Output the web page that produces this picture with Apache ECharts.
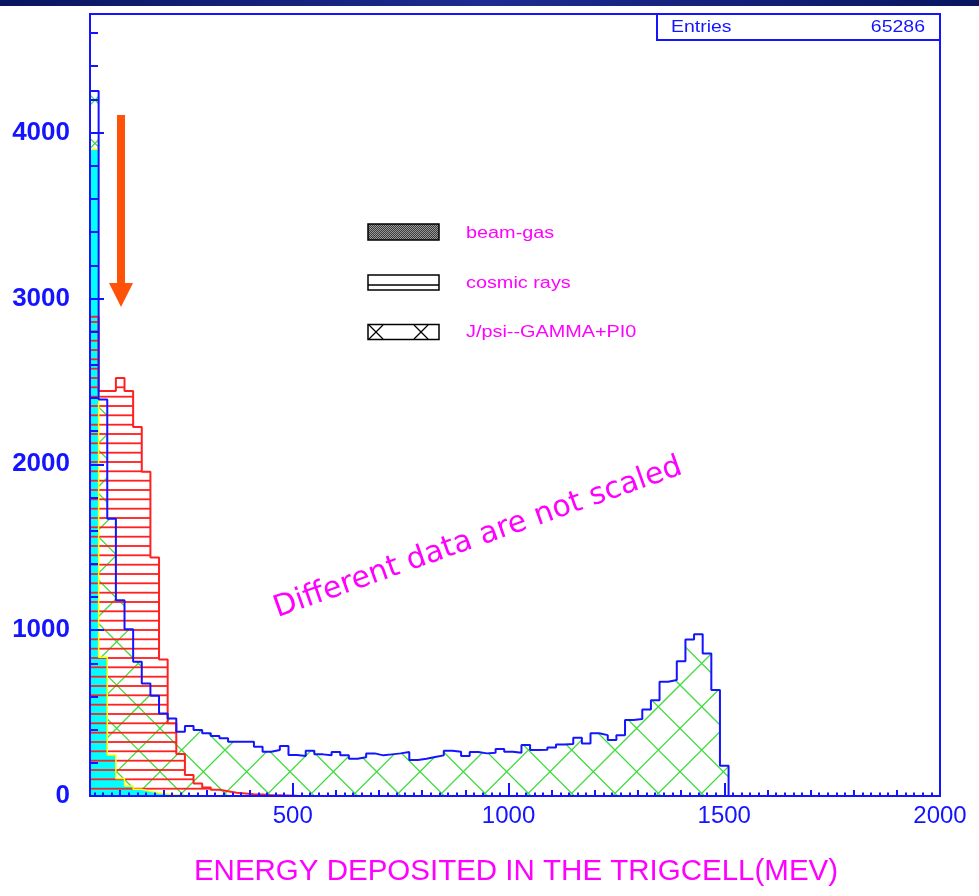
<!DOCTYPE html>
<html>
<head>
<meta charset="utf-8">
<script src="https://cdn.jsdelivr.net/npm/echarts@6/dist/echarts.min.js"></script>
<style>
  html, body { margin: 0; padding: 0; background: #fff; }
  #chart { width: 979px; height: 896px; }
</style>
</head>
<body>
<div id="chart"></div>
<script>
// histogram binning (MeV): 20 MeV bins, first bin starts at 30
const binStart = 30
const binWidth = 20

// J/psi -> gamma pi0 (blue outline, green cross hatch)
const jpsiCounts = [
  4250, 2390, 1671, 1181, 1006, 809, 679, 604, 498, 468, 387, 422, 398, 378, 362, 348,
  327, 327, 327, 297, 267, 277, 301,
  247, 241, 273, 251, 245, 265, 245, 225, 233, 257, 245, 251, 257, 265, 217, 225, 235,
  245, 273, 267, 241, 265, 257, 261, 283,
  267, 261, 307, 277, 279, 293, 311, 313, 351, 317, 378, 367, 337, 367, 458, 464, 522,
  578, 689, 699, 813, 944, 976, 859, 639, 183
]
// cosmic rays (red outline, horizontal hatch)
const cosmicCounts = [
  2890, 2442, 2442, 2520, 2442, 2225, 1955, 1438, 823, 438, 253, 127, 75, 52, 38, 28,
  20, 15, 10, 9, 5, 4, 3, 2
]
// beam-gas (cyan fill, yellow outline)
const beamGasCounts = [3900, 837, 247, 105, 60, 40, 28, 18, 12, 8, 5, 3, 2]

const xTickLabels = [500, 1000, 1500, 2000]
const yTickLabels = [0, 1000, 2000, 3000, 4000]
const legendNames = ['beam-gas', 'cosmic rays', 'J/psi--GAMMA+PI0']
const entries = 65286

const BLUE = '#1414ff'
const MAGENTA = '#ff00ff'
const xMin = 30, xMax = 2000, yMax = 4715

const xMediumTicks = [], xMinorTicks = [], yMinorTicks = []
for (let v = 100; v <= xMax; v += 100) if (v % 500) xMediumTicks.push(v)
for (let v = 40; v <= xMax; v += 20) if (v % 100) xMinorTicks.push(v)
for (let v = 200; v < yMax; v += 200) if (v % 1000) yMinorTicks.push(v)

const stepData = counts => {
  const pts = counts.map((v, i) => [binStart + i * binWidth, v])
  pts.push([binStart + counts.length * binWidth, 0])
  return pts
}

// hatch patterns
function crossHatch () {
  const T = 130, d = T / 3
  const c = document.createElement('canvas')
  c.width = T; c.height = T
  const ctx = c.getContext('2d')
  ctx.strokeStyle = '#3ddc3d'
  ctx.lineWidth = 1.3
  ctx.beginPath()
  for (let k = -8; k <= 10; k++) {
    const a = 38.3 + k * d
    ctx.moveTo(a - 20, -20); ctx.lineTo(a + T + 20, T + 20)
    const b = 21.7 + k * d
    ctx.moveTo(b + 20, -20); ctx.lineTo(b - T - 20, T + 20)
  }
  ctx.stroke()
  return c
}
function lineHatch () {
  const c = document.createElement('canvas')
  c.width = 8; c.height = 28
  const ctx = c.getContext('2d')
  ctx.fillStyle = '#ff2020'
  ;[4.7, 14, 23.3].forEach(y => ctx.fillRect(0, y - 0.9, 8, 1.8))
  return c
}
function stipple () {
  const c = document.createElement('canvas')
  c.width = 2; c.height = 2
  const ctx = c.getContext('2d')
  ctx.fillStyle = '#3a3a3a'; ctx.fillRect(0, 0, 2, 2)
  ctx.fillStyle = '#9a9a9a'; ctx.fillRect(0, 0, 1, 1); ctx.fillRect(1, 1, 1, 1)
  return c
}

const plain = v => String(v)
const axisBase = { type: 'value', min: xMin, max: xMax, position: 'bottom', axisLine: { show: false }, splitLine: { show: false }, z: 12 }
const yBase = { type: 'value', min: 0, max: yMax, position: 'left', axisLine: { show: false }, splitLine: { show: false }, z: 12 }
const tickStyle = { color: BLUE, width: 2 }

const legendY = [234, 284, 333]
const legendText = legendNames.map((name, i) => ({
  type: 'text', x: 466, y: legendY[i], scaleX: 1.24,
  style: { text: name, font: '16px "Liberation Sans", Arial, sans-serif', fill: MAGENTA, align: 'left', verticalAlign: 'middle', textAlign: 'left', textVerticalAlign: 'middle' }
}))

const chart = echarts.init(document.getElementById('chart'))
chart.setOption({
  animation: false,
  backgroundColor: '#fff',
  grid: { left: 90, right: 39, top: 14, bottom: 100, show: true, borderColor: BLUE, borderWidth: 2, backgroundColor: 'transparent', z: 10 },
  xAxis: [
    Object.assign({}, axisBase, {
      axisTick: { inside: true, length: 13, customValues: xTickLabels, lineStyle: tickStyle },
      axisLabel: { customValues: xTickLabels, formatter: plain, color: BLUE, fontSize: 24, fontFamily: 'Liberation Sans', margin: 8 }
    }),
    Object.assign({}, axisBase, {
      axisTick: { inside: true, length: 6, customValues: xMediumTicks, lineStyle: tickStyle },
      axisLabel: { show: false }
    }),
    Object.assign({}, axisBase, {
      axisTick: { inside: true, length: 3.5, customValues: xMinorTicks, lineStyle: tickStyle },
      axisLabel: { show: false }
    })
  ],
  yAxis: [
    Object.assign({}, yBase, {
      axisTick: { inside: true, length: 14, customValues: yTickLabels, lineStyle: tickStyle },
      axisLabel: { customValues: yTickLabels, formatter: plain, color: BLUE, fontSize: 26, fontWeight: 'bold', fontFamily: 'Liberation Sans', margin: 20 }
    }),
    Object.assign({}, yBase, {
      axisTick: { inside: true, length: 8, customValues: yMinorTicks, lineStyle: tickStyle },
      axisLabel: { show: false }
    })
  ],
  series: [
    {
      name: 'J/psi fill', type: 'line', step: 'end', symbol: 'none', data: stepData(jpsiCounts),
      lineStyle: { width: 0, opacity: 0 },
      areaStyle: { color: { image: crossHatch(), repeat: 'repeat' }, opacity: 1 }
    },
    {
      name: 'beam-gas', type: 'line', step: 'end', symbol: 'none', data: stepData(beamGasCounts),
      lineStyle: { color: '#ffff00', width: 1.5 },
      areaStyle: { color: '#00ffff', opacity: 1 }
    },
    {
      name: 'cosmic rays', type: 'line', step: 'end', symbol: 'none', data: stepData(cosmicCounts),
      lineStyle: { color: '#ff2020', width: 2 },
      areaStyle: { color: { image: lineHatch(), repeat: 'repeat' }, opacity: 1 }
    },
    {
      name: 'J/psi--GAMMA+PI0', type: 'line', step: 'end', symbol: 'none', data: stepData(jpsiCounts),
      lineStyle: { color: BLUE, width: 2 }
    }
  ],
  graphic: [
    {
      type: 'rect', shape: { x: 0, y: 0, width: 979, height: 6 },
      style: { fill: new echarts.graphic.LinearGradient(0, 0, 1, 0, [{ offset: 0, color: '#0a1560' }, { offset: 0.5, color: '#1c2c90' }, { offset: 1, color: '#0a1560' }]) }
    },
    // stats box
    { type: 'rect', z: 20, shape: { x: 657, y: 14, width: 283, height: 26 }, style: { fill: '#fff', stroke: BLUE, lineWidth: 2 } },
    { type: 'text', z: 21, x: 671, y: 27, scaleX: 1.18, style: { text: 'Entries', font: '16.5px "Liberation Sans", Arial, sans-serif', fill: BLUE, align: 'left', verticalAlign: 'middle', textAlign: 'left', textVerticalAlign: 'middle' } },
    { type: 'text', z: 21, x: 925, y: 27, scaleX: 1.18, style: { text: String(entries), font: '16.5px "Liberation Sans", Arial, sans-serif', fill: BLUE, align: 'right', verticalAlign: 'middle', textAlign: 'right', textVerticalAlign: 'middle' } },
    // legend boxes
    { type: 'rect', z: 20, shape: { x: 368, y: 224, width: 71, height: 16 }, style: { fill: { image: stipple(), repeat: 'repeat' }, stroke: '#000', lineWidth: 1.5 } },
    { type: 'rect', z: 20, shape: { x: 368, y: 275, width: 71, height: 15 }, style: { fill: '#fff', stroke: '#000', lineWidth: 1.5 } },
    { type: 'line', z: 20, shape: { x1: 368, y1: 285, x2: 439, y2: 285 }, style: { stroke: '#000', lineWidth: 1.5 } },
    { type: 'rect', z: 20, shape: { x: 368, y: 324.5, width: 71, height: 15 }, style: { fill: '#fff', stroke: '#000', lineWidth: 1.5 } },
    { type: 'polyline', z: 20, shape: { points: [[369, 325], [383, 339]] }, style: { stroke: '#000', lineWidth: 1.2 } },
    { type: 'polyline', z: 20, shape: { points: [[383, 325], [369, 339]] }, style: { stroke: '#000', lineWidth: 1.2 } },
    { type: 'polyline', z: 20, shape: { points: [[414, 325], [428, 339]] }, style: { stroke: '#000', lineWidth: 1.2 } },
    { type: 'polyline', z: 20, shape: { points: [[428, 325], [414, 339]] }, style: { stroke: '#000', lineWidth: 1.2 } }
  ].concat(legendText).concat([
    // arrow
    { type: 'rect', z: 30, shape: { x: 117, y: 115, width: 8, height: 169 }, style: { fill: '#ff5208' } },
    { type: 'polygon', z: 30, shape: { points: [[109, 283], [133, 283], [121, 307]] }, style: { fill: '#ff5208' } },
    // annotation
    {
      type: 'text', z: 25, x: 478, y: 538, rotation: 19.5 * Math.PI / 180,
      style: { text: 'Different data are not scaled', font: '30px "DejaVu Sans", sans-serif', fill: MAGENTA, align: 'center', verticalAlign: 'middle', textAlign: 'center', textVerticalAlign: 'middle' }
    },
    {
      type: 'text', z: 25, x: 516, y: 872,
      style: { text: 'ENERGY DEPOSITED IN THE TRIGCELL(MEV)', font: '29.5px "Liberation Sans", Arial, sans-serif', fill: MAGENTA, align: 'center', verticalAlign: 'middle', textAlign: 'center', textVerticalAlign: 'middle' }
    }
  ])
})
</script>
</body>
</html>
